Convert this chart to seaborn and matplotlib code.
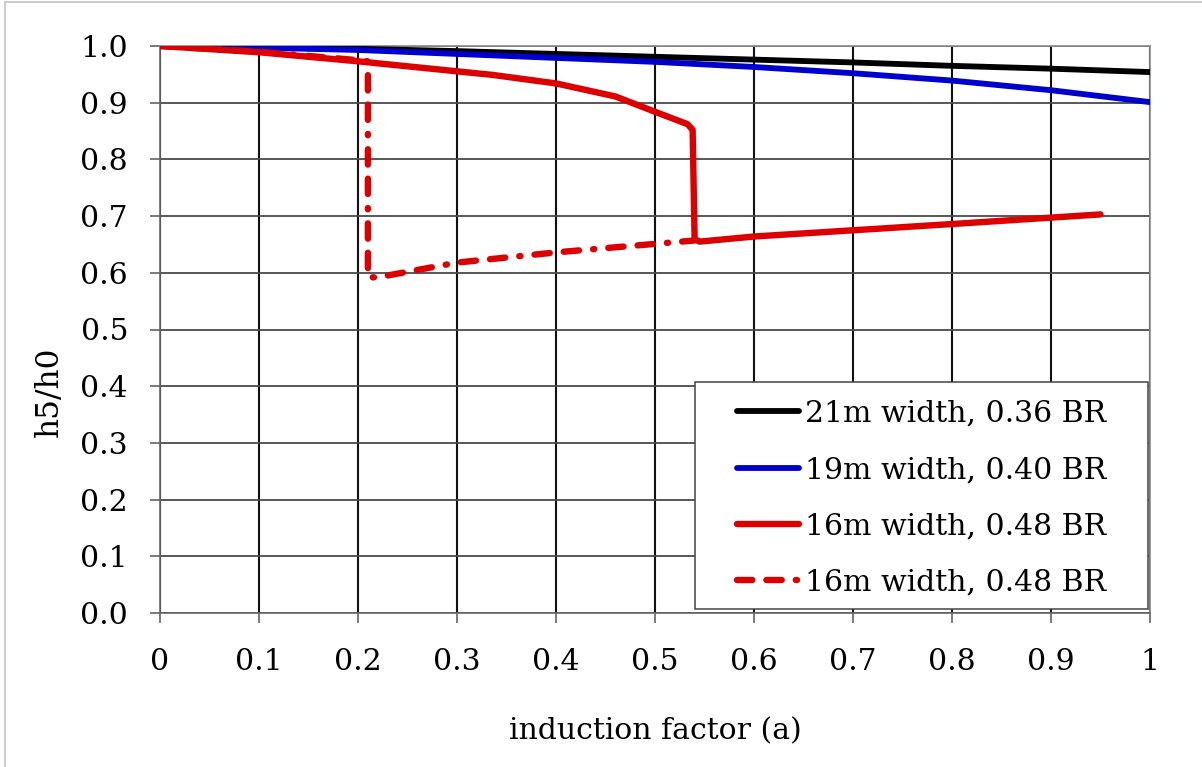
import matplotlib
matplotlib.use("Agg")
import matplotlib.pyplot as plt
from matplotlib.patches import Rectangle
from matplotlib.lines import Line2D
import seaborn as sns
import pandas as pd

# ---- data ----
a_black = [0, 0.1, 0.2, 0.3, 0.4, 0.5, 0.6, 0.7, 0.8, 0.9, 1.0]
h_black = [1.0, 0.998, 0.995, 0.991, 0.986, 0.981, 0.976, 0.971, 0.965, 0.960, 0.954]

a_blue = [0, 0.1, 0.2, 0.3, 0.4, 0.5, 0.6, 0.7, 0.8, 0.9, 1.0]
h_blue = [1.0, 0.997, 0.993, 0.986, 0.979, 0.972, 0.963, 0.952, 0.939, 0.922, 0.901]

a_red = [0, 0.1, 0.2, 0.336, 0.4, 0.46, 0.5, 0.533, 0.538, 0.540, 0.545, 0.6, 0.7, 0.8, 0.95]
h_red = [1.0, 0.989, 0.973, 0.949, 0.934, 0.911, 0.884, 0.862, 0.852, 0.660, 0.655, 0.664, 0.675, 0.686, 0.703]

a_red_dash = [0, 0.1, 0.2, 0.21, 0.21, 0.22, 0.3, 0.4, 0.5, 0.54]
h_red_dash = [1.0, 0.990, 0.975, 0.973, 0.592, 0.592, 0.618, 0.636, 0.651, 0.657]

labels = ["21m width, 0.36 BR", "19m width, 0.40 BR",
          "16m width, 0.48 BR", "16m width, 0.48 BR"]
x_ticks = [0, 0.1, 0.2, 0.3, 0.4, 0.5, 0.6, 0.7, 0.8, 0.9, 1]
x_ticklabels = ["0", "0.1", "0.2", "0.3", "0.4", "0.5", "0.6", "0.7", "0.8", "0.9", "1"]
y_ticks = [0.0, 0.1, 0.2, 0.3, 0.4, 0.5, 0.6, 0.7, 0.8, 0.9, 1.0]
y_ticklabels = ["0.0", "0.1", "0.2", "0.3", "0.4", "0.5", "0.6", "0.7", "0.8", "0.9", "1.0"]

sns.set_theme(style="white")
plt.rcParams["font.family"] = ["DejaVu Serif"]
FS = 21.5

fig = plt.figure(figsize=(12.02, 7.67), dpi=100)
ax = fig.add_axes([160 / 1202, 1 - 613 / 767, 990 / 1202, 567 / 767])

# grid
for xv in x_ticks:
    ax.axvline(xv, color="#111111", lw=1.5, zorder=1)
for yv in y_ticks:
    ax.axhline(yv, color="#4a4a4a", lw=1.3, zorder=1)

series = [
    (a_black, h_black, "#000000", 4.2, "-", labels[0]),
    (a_blue, h_blue, "#0000CC", 4.2, "-", labels[1]),
    (a_red, h_red, "#DD0000", 4.6, "-", labels[2]),
    (a_red_dash, h_red_dash, "#DD0000", 4.6, (0, (2.4, 2.2, 2.4, 2.2, 0.2, 2.2)), labels[3]),
]
for xs, ys, col, lw, ls, lab in series:
    df = pd.DataFrame({"a": xs, "h": ys})
    sns.lineplot(data=df, x="a", y="h", sort=False, estimator=None, ax=ax,
                 color=col, linewidth=lw, linestyle=ls, label=lab, zorder=3,
                 solid_capstyle="round", dash_capstyle="round", solid_joinstyle="round")

ax.set_xlim(0, 1)
ax.set_ylim(0, 1)
ax.set_xticks(x_ticks)
ax.set_xticklabels(x_ticklabels)
ax.set_yticks(y_ticks)
ax.set_yticklabels(y_ticklabels)
ax.tick_params(axis="both", direction="out", length=7, width=1.1, color="#555555",
               labelsize=FS, labelcolor="black")
ax.tick_params(axis="x", pad=18, bottom=True)
ax.tick_params(axis="y", pad=16, left=True)
ax.set_xlabel("induction factor (a)", fontsize=FS, labelpad=30, color="black")
ax.set_ylabel("h5/h0", fontsize=FS + 1, color="black")
ax.yaxis.set_label_coords(-0.096, (613 - 392) / 567)

for side, sp in ax.spines.items():
    sp.set_visible(True)
    sp.set_linewidth(1.2)
    sp.set_color("#666666" if side in ("left", "bottom") else "#8a8a8a")
    sp.set_zorder(2)

# legend box
lx0 = (695 - 160) / 990
lx1 = (1148 - 160) / 990
ly0 = (613 - 609) / 567
ly1 = (613 - 382) / 567
ax.add_patch(Rectangle((lx0, ly0), lx1 - lx0, ly1 - ly0, transform=ax.transAxes,
                       facecolor="white", edgecolor="#444444", lw=1.1, zorder=4))
leg = ax.legend(loc="center", bbox_to_anchor=((lx0 + lx1) / 2, (ly0 + ly1) / 2 - 0.005),
                frameon=False, fontsize=FS, handlelength=2.07, handletextpad=0.2,
                labelspacing=0.95, borderpad=0.0)
leg.set_zorder(5)
for t in leg.get_texts():
    t.set_color("black")

# outer light frame (top / left)
fig.add_artist(Line2D([5 / 1202, 5 / 1202], [0, 1 - 2 / 767], transform=fig.transFigure,
                      color="#cccccc", lw=1.5))
fig.add_artist(Line2D([5 / 1202, 1], [1 - 2 / 767, 1 - 2 / 767], transform=fig.transFigure,
                      color="#cccccc", lw=1.5))

fig.savefig("out.png", dpi=100)
